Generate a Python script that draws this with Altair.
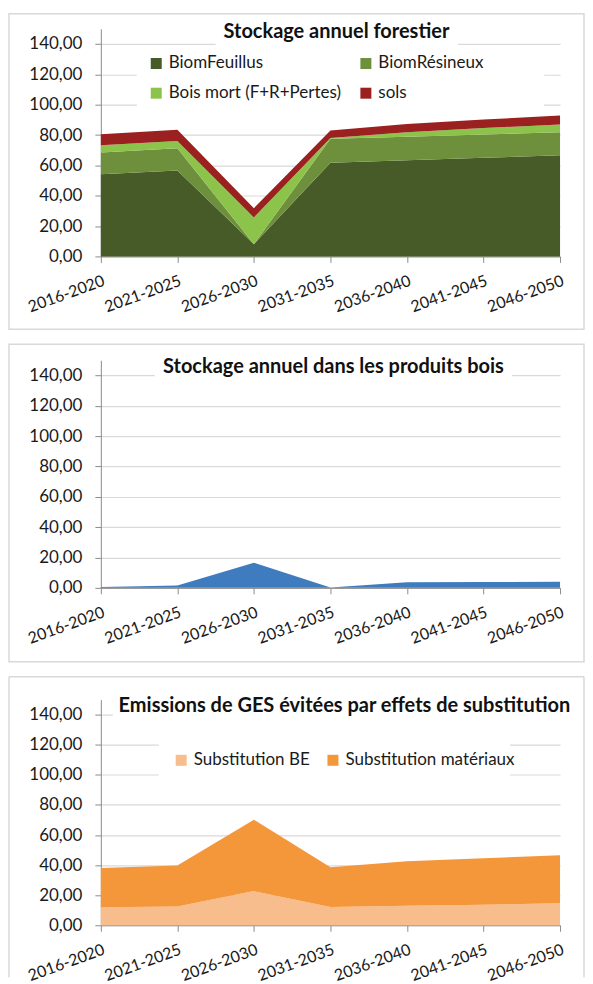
import altair as alt
import pandas as pd

periods = ["2016-2020", "2021-2025", "2026-2030", "2031-2035", "2036-2040", "2041-2045", "2046-2050"]

# Panel 1 : Stockage annuel forestier
biom_feuillus = [54.2, 56.6, 8.1, 61.7, 63.3, 65.0, 66.7]
biom_resineux = [14.3, 14.7, 0.0, 15.8, 15.6, 15.4, 15.2]
bois_mort = [4.8, 4.8, 17.6, 0.5, 3.0, 4.2, 5.0]
sols = [7.2, 7.3, 6.1, 5.0, 5.4, 5.6, 5.9]
forest_series = ["BiomFeuillus", "BiomRésineux", "Bois mort (F+R+Pertes)", "sols"]
forest_colors = ["#475B29", "#6E903C", "#8CC34B", "#9A2120"]

# Panel 2 : Stockage annuel dans les produits bois
produits_bois = [0.5, 1.5, 16.5, 0.2, 3.7, 3.8, 4.0]

# Panel 3 : Emissions de GES évitées par effets de substitution
subst_be = [11.9, 12.4, 22.7, 12.1, 13.0, 13.7, 14.6]
subst_mat = [26.1, 27.3, 47.5, 26.5, 29.6, 30.9, 32.0]
subst_series = ["Substitution BE", "Substitution matériaux"]
subst_colors = ["#F8BD8C", "#F4963A"]

titles = [
    "Stockage annuel forestier",
    "Stockage annuel dans les produits bois",
    "Emissions de GES évitées par effets de substitution",
]

FONT = "Lato"
TXT = "#1a1a1a"
GRID = "#D9D9D9"
AXC = "#8C8C8C"
W = 460
RIGHT = 484


def long_df(names, arrays):
    rows = []
    for k, (n, arr) in enumerate(zip(names, arrays)):
        for p, v in zip(periods, arr):
            rows.append({"period": p, "series": n, "value": v, "ord": k})
    return pd.DataFrame(rows)


def x_enc():
    return alt.X(
        "period:O", sort=periods,
        scale=alt.Scale(type="point", padding=0),
        axis=alt.Axis(title=None, labelAngle=-20, labelAlign="right", labelBaseline="top",
                      labelFont=FONT, labelFontSize=16, labelColor=TXT, labelPadding=10,
                      tickSize=6, tickColor=AXC, domainColor=AXC, grid=False),
    )


def y_enc():
    return alt.Y(
        "value:Q", stack="zero",
        scale=alt.Scale(domain=[0, 150], nice=False),
        axis=alt.Axis(title=None, values=list(range(0, 141, 20)),
                      labelExpr="replace(format(datum.value, '.2f'), '.', ',')",
                      labelFont=FONT, labelFontSize=17, labelColor=TXT, labelPadding=13,
                      tickSize=6, tickColor=AXC, domainColor=AXC,
                      grid=True, gridColor=GRID, gridWidth=1.2),
    )


deco = pd.DataFrame({"k": [0]})


def box(x, x2, y, y2):
    return alt.Chart(deco).mark_rect(color="white").encode(
        x=alt.value(x), x2=alt.value(x2), y=alt.value(y), y2=alt.value(y2))


def frame(y, y2):
    return alt.Chart(deco).mark_rect(fillOpacity=0, stroke=GRID, strokeWidth=1.5).encode(
        x=alt.value(-92), x2=alt.value(RIGHT), y=alt.value(y), y2=alt.value(y2))


def vline(x, y, y2):
    return alt.Chart(deco).mark_rule(color=GRID, strokeWidth=1.5).encode(
        x=alt.value(x), y=alt.value(y), y2=alt.value(y2))


def hline(y):
    return alt.Chart(deco).mark_rule(color=GRID, strokeWidth=1.5).encode(
        x=alt.value(-92), x2=alt.value(RIGHT), y=alt.value(y))


def title_text(t, x, y):
    return alt.Chart(pd.DataFrame({"t": [t]})).mark_text(
        font=FONT, fontSize=20, fontWeight="bold", color="#111",
        align="center", baseline="middle").encode(
        text="t:N", x=alt.value(x), y=alt.value(y))


def legend(x, y, col_pad, row_pad=0):
    return alt.Legend(title=None, orient="none", legendX=x, legendY=y,
                      direction="horizontal", columns=2, symbolType="square",
                      symbolSize=121, symbolStrokeWidth=0, labelFont=FONT,
                      labelFontSize=17, labelColor=TXT, rowPadding=row_pad,
                      columnPadding=col_pad, padding=0, labelLimit=400)


# ---------- Panel 1
df1 = long_df(forest_series, [biom_feuillus, biom_resineux, bois_mort, sols])
area1 = alt.Chart(df1).mark_area(opacity=1).encode(
    x=x_enc(), y=y_enc(),
    color=alt.Color("series:N", sort=forest_series,
                    scale=alt.Scale(domain=forest_series, range=forest_colors),
                    legend=legend(47, 26, 16, 12)),
    order=alt.Order("ord:Q"),
)
p1 = alt.layer(
    frame(-15, 301),
    box(115, 358, -10, 20),
    box(36, 444, 22, 82),
    area1,
    title_text(titles[0], 236, 3),
).properties(width=W, height=228)

# ---------- Panel 2
df2 = long_df(["Produits bois"], [produits_bois])
area2 = alt.Chart(df2).mark_area(color="#3F7CBF", opacity=1).encode(x=x_enc(), y=y_enc())
p2 = alt.layer(
    frame(-16, 302),
    box(54, 412, -10, 22),
    area2,
    title_text(titles[1], 233, 7),
).properties(width=W, height=228)

# ---------- Panel 3
df3 = long_df(subst_series, [subst_be, subst_mat])
area3 = alt.Chart(df3).mark_area(opacity=1).encode(
    x=x_enc(), y=y_enc(),
    color=alt.Color("series:N", sort=subst_series,
                    scale=alt.Scale(domain=subst_series, range=subst_colors),
                    legend=legend(72, 52, 14)),
    order=alt.Order("ord:Q"),
)
p3 = alt.layer(
    hline(-23),
    vline(-92, -23, 278),
    vline(RIGHT, -23, 278),
    box(12, 460, -10, 22),
    box(58, 410, 38, 82),
    area3,
    title_text(titles[2], 244, 6),
).properties(width=W, height=226)

chart = alt.vconcat(p1, p2, p3, spacing=13).resolve_scale(color="independent").properties(
    padding={"left": 0, "top": 4, "right": 0, "bottom": 0}
).configure_view(stroke=None)

chart.save("out.html", embed_options={"renderer": "svg", "actions": False})
